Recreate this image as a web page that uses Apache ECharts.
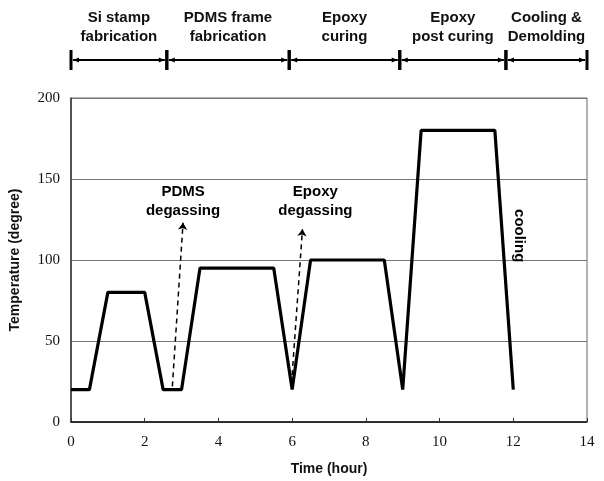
<!DOCTYPE html>
<html><head><meta charset="utf-8">
<script src="https://cdn.jsdelivr.net/npm/echarts@6/dist/echarts.min.js"></script>
<style>html,body{margin:0;padding:0;background:#fff}#c{width:604px;height:481px}</style>
</head><body><div id="c"></div>
<script>
// Temperature profile
const timeHours = [0, 0.5, 1, 2, 2.5, 3, 3.5, 5.5, 6, 6.5, 8.5, 9, 9.5, 11.5, 12];
const temperature = [20, 20, 80, 80, 20, 20, 95, 95, 20, 100, 100, 20, 180, 180, 20];
const xTicks = [0, 2, 4, 6, 8, 10, 12, 14];
const yTicks = [0, 50, 100, 150, 200];

// Process stages on the top timeline
const stageStart = [0, 2.6, 5.92, 8.92, 11.8];
const stageEnd = [2.6, 5.92, 8.92, 11.8, 14];
const stageLabels = ['Si stamp\nfabrication', 'PDMS frame\nfabrication', 'Epoxy\ncuring', 'Epoxy\npost curing', 'Cooling &\nDemolding'];

// Annotations
const noteTexts = ['PDMS\ndegassing', 'Epoxy\ndegassing', 'cooling'];
const noteX = [3.04, 6.63, 12.15];
const noteY = [136.5, 136, 115];
const noteRotate = [0, 0, -90];
const arrowFrom = [[2.75, 22], [6.0, 29]];
const arrowTo = [[3.04, 123], [6.28, 119]];

const SANS = '"Liberation Sans", Arial, sans-serif';
const SERIF = '"Liberation Serif", "Times New Roman", serif';

const chart = echarts.init(document.getElementById('c'), null, {renderer: 'canvas'});
chart.setOption({
  animation: false,
  backgroundColor: '#fff',
  grid: [
    {left: 71, right: 17, top: 98, bottom: 54, show: true, borderColor: '#666', borderWidth: 1, backgroundColor: 'transparent'},
    {left: 71, right: 17, top: 40, height: 40}
  ],
  xAxis: [
    {
      type: 'value', gridIndex: 0, min: xTicks[0], max: xTicks[xTicks.length - 1], interval: 2,
      name: 'Time (hour)', nameLocation: 'middle', nameGap: 40,
      nameTextStyle: {fontFamily: SANS, fontWeight: 'bold', fontSize: 14, color: '#111'},
      axisLine: {show: true, lineStyle: {color: '#111', width: 1.5}},
      axisTick: {show: true, inside: true, length: 4, lineStyle: {color: '#333'}},
      axisLabel: {fontFamily: SERIF, fontSize: 15, color: '#111', margin: 13},
      splitLine: {show: false}
    },
    {type: 'value', gridIndex: 1, min: 0, max: 14, show: false}
  ],
  yAxis: [
    {
      type: 'value', gridIndex: 0, min: yTicks[0], max: yTicks[yTicks.length - 1], interval: 50,
      name: 'Temperature (degree)', nameLocation: 'middle', nameGap: 49,
      nameTextStyle: {fontFamily: SANS, fontWeight: 'bold', fontSize: 14, color: '#111'},
      axisLine: {show: true, lineStyle: {color: '#333', width: 1.5}},
      axisTick: {show: false},
      axisLabel: {fontFamily: SERIF, fontSize: 15, color: '#111', margin: 11},
      splitLine: {show: true, lineStyle: {color: '#777', width: 1}}
    },
    {type: 'value', gridIndex: 1, min: -1, max: 1, show: false}
  ],
  series: [
    {
      type: 'line', xAxisIndex: 0, yAxisIndex: 0,
      data: timeHours.map((t, i) => [t, temperature[i]]),
      showSymbol: false, symbol: 'none',
      lineStyle: {color: '#000', width: 3.2},
      z: 5,
      markLine: {
        silent: true, animation: false,
        symbol: ['none', 'arrow'], symbolSize: 7,
        label: {show: false},
        lineStyle: {color: '#000', width: 1.5, type: [5, 4]},
        data: arrowFrom.map((a, i) => [{coord: a}, {coord: arrowTo[i]}])
      }
    },
    {
      type: 'scatter', xAxisIndex: 0, yAxisIndex: 0, symbolSize: 1, silent: true,
      itemStyle: {opacity: 0},
      data: noteTexts.map((t, i) => ({value: [noteX[i], noteY[i]], name: t,
        label: {rotate: noteRotate[i]}})),
      label: {
        show: true, position: 'inside', formatter: p => p.name, opacity: 1,
        fontFamily: SANS, fontWeight: 'bold', fontSize: 15, color: '#000', lineHeight: 19, align: 'center'
      },
      z: 6
    },
    {
      type: 'custom', xAxisIndex: 1, yAxisIndex: 1, silent: true,
      data: stageStart.map((s, i) => [s, stageEnd[i], i]),
      renderItem: function (params, api) {
        const p0 = api.coord([api.value(0), 0]);
        const p1 = api.coord([api.value(1), 0]);
        const y = p0[1];
        const label = stageLabels[api.value(2)];
        const c = '#000';
        return {
          type: 'group',
          children: [
            {type: 'line', shape: {x1: p0[0] + 2, y1: y, x2: p1[0] - 2, y2: y}, style: {stroke: c, lineWidth: 2}},
            {type: 'polygon', shape: {points: [[p0[0] + 2, y], [p0[0] + 8, y - 2.5], [p0[0] + 8, y + 2.5]]}, style: {fill: c}},
            {type: 'polygon', shape: {points: [[p1[0] - 2, y], [p1[0] - 8, y - 2.5], [p1[0] - 8, y + 2.5]]}, style: {fill: c}},
            {type: 'line', shape: {x1: p0[0], y1: y - 10, x2: p0[0], y2: y + 10}, style: {stroke: c, lineWidth: 3}},
            {type: 'line', shape: {x1: p1[0], y1: y - 10, x2: p1[0], y2: y + 10}, style: {stroke: c, lineWidth: 3}},
            {type: 'text', x: (p0[0] + p1[0]) / 2, y: y - 33,
              style: {text: label, fontFamily: SANS, fontWeight: 'bold', fontSize: 15, lineHeight: 19,
                fill: '#111', align: 'center', verticalAlign: 'middle'}}
          ]
        };
      }
    }
  ]
});
</script>
</body></html>
